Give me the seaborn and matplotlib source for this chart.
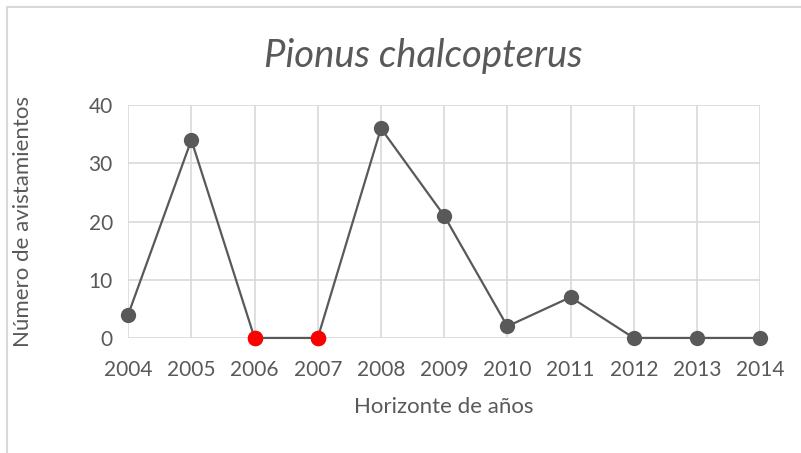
import matplotlib
matplotlib.use("Agg")
import matplotlib.pyplot as plt
import pandas as pd
import seaborn as sns

years = [2004, 2005, 2006, 2007, 2008, 2009, 2010, 2011, 2012, 2013, 2014]
sightings = [4, 34, 0, 0, 36, 21, 2, 7, 0, 0, 0]
highlight_years = [2006, 2007]

df = pd.DataFrame({"year": years, "count": sightings})
df["highlight"] = df["year"].isin(highlight_years)

sns.set_style("white")
plt.rcParams["font.family"] = ["Lato", "DejaVu Sans"]

fig = plt.figure(figsize=(8.01, 4.53), dpi=100)
ax = fig.add_axes([0.16, 0.254, 0.789, 0.514])

sns.lineplot(data=df, x="year", y="count", ax=ax, color="#595959", linewidth=1.6,
             marker="o", markersize=11, markeredgewidth=0, zorder=3, clip_on=False)
sns.scatterplot(data=df[df["highlight"]], x="year", y="count", ax=ax, color="#ff0000",
                s=125, linewidth=0, zorder=4, clip_on=False)

ax.set_xlim(years[0], years[-1])
ax.set_ylim(0, 40)
ax.set_xticks(years)
ax.set_yticks([0, 10, 20, 30, 40])
ax.grid(True, color="#d9d9d9", linewidth=1.2)
ax.set_axisbelow(True)
for s in ax.spines.values():
    s.set_visible(False)
ax.tick_params(axis="x", length=0, labelsize=15, colors="#595959", pad=16)
ax.tick_params(axis="y", length=0, labelsize=15, colors="#595959", pad=11)
ax.set_xlabel("Horizonte de años", fontsize=16, color="#595959", labelpad=12)
ax.set_ylabel("Número de avistamientos", fontsize=16, color="#595959", labelpad=40)

fig.text(0.528, 0.876, "Pionus chalcopterus", ha="center", va="center", fontsize=27.5,
         style="italic", color="#595959")

# light frame around the chart area
fig.patches.append(plt.Rectangle((0.009, -0.05), 1.1, 1.034, transform=fig.transFigure,
                                 fill=False, edgecolor="#d9d9d9", linewidth=1.5))

fig.savefig("out.png", dpi=100)
